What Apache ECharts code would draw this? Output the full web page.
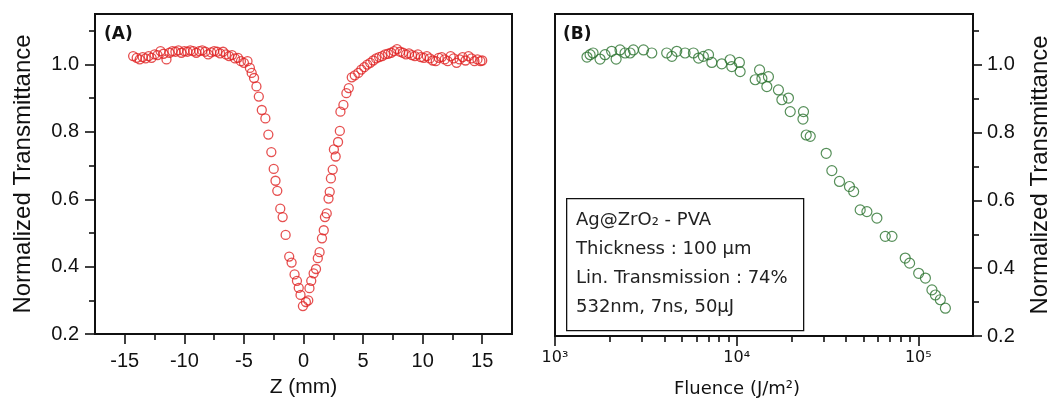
<!DOCTYPE html>
<html>
<head>
<meta charset="utf-8">
<script src="https://cdn.jsdelivr.net/npm/echarts@6/dist/echarts.min.js"></script>
<style>
html,body{margin:0;padding:0;background:#fff;}
#chart{width:1060px;height:403px;}
</style>
</head>
<body>
<div id="chart"></div>
<script>
// panel A : open aperture z-scan
var zA = [-14.3,-14.0,-13.75,-13.5,-13.25,-13.0,-12.75,-12.5,-12.25,-12.0,-11.75,-11.5,-11.25,-11.0,-10.75,-10.5,-10.25,-10.0,-9.75,-9.5,-9.25,-9.0,-8.75,-8.5,-8.25,-8.0,-7.75,-7.5,-7.25,-7.0,-6.75,-6.5,-6.25,-6.0,-5.75,-5.5,-5.25,-5.0,
  -4.7,-4.5,-4.35,-4.15,-3.95,-3.75,-3.5,-3.2,-2.95,-2.7,-2.5,-2.35,-2.2,-1.95,-1.75,-1.5,-1.2,-1.0,-0.75,-0.55,-0.4,-0.25,-0.05,
  0.2,0.4,0.5,0.65,0.85,1.05,1.2,1.35,1.55,1.7,1.8,1.95,2.1,2.2,2.3,2.45,2.55,2.7,2.9,3.05,3.1,3.35,3.6,3.8,4.05,4.3,
  4.6,4.85,5.1,5.35,5.6,5.85,6.1,6.35,6.6,6.85,7.1,7.35,7.6,7.85,8.1,8.35,8.6,8.85,9.1,9.35,9.6,9.85,10.1,10.35,10.6,10.85,11.1,11.35,11.6,11.85,12.1,12.35,12.6,12.85,13.1,13.35,13.6,13.85,14.1,14.35,14.6,14.85,15.0];
var tA = [1.025,1.020,1.015,1.022,1.018,1.025,1.020,1.030,1.028,1.040,1.032,1.015,1.035,1.040,1.038,1.042,1.035,1.040,1.038,1.042,1.040,1.035,1.040,1.042,1.038,1.030,1.036,1.040,1.038,1.033,1.038,1.030,1.025,1.028,1.018,1.020,1.010,1.005,
  1.010,0.990,0.975,0.960,0.935,0.905,0.865,0.840,0.792,0.740,0.690,0.655,0.625,0.572,0.547,0.494,0.430,0.412,0.377,0.358,0.337,0.316,0.283,
  0.295,0.300,0.336,0.358,0.380,0.393,0.425,0.443,0.484,0.508,0.547,0.558,0.602,0.622,0.662,0.688,0.748,0.727,0.770,0.803,0.860,0.880,0.915,0.930,0.962,0.968,
  0.975,0.985,0.992,1.000,1.005,1.012,1.018,1.022,1.025,1.030,1.032,1.035,1.040,1.046,1.038,1.035,1.030,1.033,1.028,1.025,1.030,1.022,1.020,1.025,1.018,1.012,1.010,1.020,1.022,1.015,1.010,1.025,1.018,1.005,1.015,1.022,1.012,1.025,1.018,1.010,1.015,1.010,1.012];

// panel B : transmittance vs fluence
var fluB = [1500,1560,1620,1770,1885,2050,2170,2280,2430,2590,2700,3070,3410,4120,4400,4680,5200,5780,6170,6560,7000,7300,8280,9200,9400,
  10350,10450,12650,13370,13770,14660,14960,16980,17740,19280,19720,23330,23170,24150,25410,31120,33420,36810,41780,44060,
  47860,52120,59160,65770,71610,84720,89540,100460,109400,118850,124170,132130,140930];
var tB = [1.023,1.030,1.035,1.017,1.030,1.040,1.017,1.044,1.035,1.035,1.044,1.044,1.035,1.035,1.025,1.040,1.035,1.035,1.020,1.025,1.030,1.007,1.003,1.015,0.995,
  1.007,0.980,0.956,0.985,0.960,0.936,0.965,0.926,0.897,0.902,0.862,0.862,0.840,0.793,0.789,0.739,0.688,0.656,0.641,0.626,
  0.572,0.567,0.548,0.494,0.494,0.430,0.415,0.385,0.371,0.336,0.321,0.307,0.282];

var zMajor = [-15,-10,-5,0,5,10,15];
var zMinor = [-12.5,-7.5,-2.5,2.5,7.5,12.5];
var yMajor = [0.2,0.4,0.6,0.8,1.0];
var yMinor = [0.3,0.5,0.7,0.9,1.1];
var fMajor = [1000,10000,100000];
var fMinor = [2000,3000,4000,5000,6000,7000,8000,9000,20000,30000,40000,50000,60000,70000,80000,90000];
var supLabel = {1000:'10³',10000:'10⁴',100000:'10⁵'};

var legendLines = ['Ag@ZrO₂ - PVA','Thickness : 100 µm','Lin. Transmission : 74%','532nm, 7ns, 50µJ'];

var lineStyle = {color:'#111',width:1.6};
var arial = 'Liberation Sans, Arial, sans-serif';
var verdana = 'DejaVu Sans, Verdana, sans-serif';

function zip(a,b){
	var out=[];
	for(var i=0;i<a.length;i++){ out.push([a[i],b[i]]); }
	return out;
}

var myChart = echarts.init(document.getElementById('chart'));

var legendGraphics = [{
	type:'rect', left:566, top:198, z:10,
	shape:{width:237,height:132},
	style:{fill:'#fff',stroke:'#111',lineWidth:1.3}
}];
for(var i=0;i<legendLines.length;i++){
	legendGraphics.push({
		type:'text', left:576, top:211+i*29, z:11,
		style:{text:legendLines[i],fill:'#222',font:'18px '+verdana}
	});
}
legendGraphics.push({type:'text',left:104,top:26,z:11,style:{text:'(A)',fill:'#111',font:'bold 17px '+verdana}});
legendGraphics.push({type:'text',left:563,top:26,z:11,style:{text:'(B)',fill:'#111',font:'bold 17px '+verdana}});

function tickAxis(extra){
	var base = {
		axisLine:{show:false,onZero:false},
		axisTick:{length:6,lineStyle:lineStyle},
		axisLabel:{show:false},
		splitLine:{show:false}
	};
	for(var k in extra){ base[k]=extra[k]; }
	return base;
}

option = {
	animation:false,
	grid:[
		{left:95,top:14,width:417,height:322,show:true,borderColor:'#111',borderWidth:2},
		{left:555,top:14,width:418,height:322,show:true,borderColor:'#111',borderWidth:2}
	],
	xAxis:[
		{
			gridIndex:0, type:'value', position:'bottom', min:-17.5, max:17.5,
			name:'Z (mm)', nameLocation:'middle', nameGap:43,
			nameTextStyle:{fontFamily:arial,fontSize:21,color:'#111'},
			axisLine:{onZero:false,lineStyle:lineStyle},
			axisTick:{customValues:zMajor,length:10,lineStyle:lineStyle},
			axisLabel:{customValues:zMajor,margin:17,fontFamily:arial,fontSize:20,color:'#111'},
			splitLine:{show:false}
		},
		tickAxis({gridIndex:0, type:'value', position:'bottom', min:-17.5, max:17.5,
			axisTick:{customValues:zMinor,length:6,lineStyle:lineStyle}}),
		{
			gridIndex:1, type:'log', logBase:10, position:'bottom', min:1000, max:200000,
			name:'Fluence (J/m²)', nameLocation:'middle', nameGap:44,
			nameTextStyle:{fontFamily:verdana,fontSize:18,color:'#111',padding:[0,54,0,0]},
			axisLine:{onZero:false,lineStyle:lineStyle},
			axisTick:{customValues:fMajor,length:10,lineStyle:lineStyle},
			axisLabel:{customValues:fMajor,margin:14,fontFamily:verdana,fontSize:16,color:'#111',
				formatter:function(v){ return supLabel[Math.round(v)] || ''; }},
			splitLine:{show:false}
		},
		tickAxis({gridIndex:1, type:'log', logBase:10, position:'bottom', min:1000, max:200000,
			axisTick:{customValues:fMinor,length:6,lineStyle:lineStyle}})
	],
	yAxis:[
		{
			gridIndex:0, type:'value', position:'left', min:0.2, max:1.15,
			name:'Normalized Transmittance', nameLocation:'middle', nameGap:60, nameRotate:90,
			nameTextStyle:{fontFamily:arial,fontSize:24,color:'#111'},
			axisLine:{onZero:false,lineStyle:lineStyle},
			axisTick:{customValues:yMajor,length:10,lineStyle:lineStyle},
			axisLabel:{customValues:yMajor,margin:16,fontFamily:arial,fontSize:20,color:'#111',
				formatter:function(v){ return v.toFixed(1); }},
			splitLine:{show:false}
		},
		tickAxis({gridIndex:0, type:'value', position:'left', min:0.2, max:1.15,
			axisTick:{customValues:yMinor,length:6,lineStyle:lineStyle}}),
		{
			gridIndex:1, type:'value', position:'right', min:0.2, max:1.15,
			name:'Normalized Transmittance', nameLocation:'middle', nameGap:55, nameRotate:90,
			nameTextStyle:{fontFamily:arial,fontSize:24,color:'#111'},
			axisLine:{onZero:false,lineStyle:lineStyle},
			axisTick:{customValues:yMajor,length:9,lineStyle:lineStyle},
			axisLabel:{customValues:yMajor,margin:14,fontFamily:arial,fontSize:20,color:'#111',
				formatter:function(v){ return v.toFixed(1); }},
			splitLine:{show:false}
		},
		tickAxis({gridIndex:1, type:'value', position:'right', min:0.2, max:1.15,
			axisTick:{customValues:yMinor,length:6,lineStyle:lineStyle}})
	],
	graphic:legendGraphics,
	series:[
		{
			name:'A', type:'scatter', xAxisIndex:0, yAxisIndex:0,
			symbol:'circle', symbolSize:9,
			itemStyle:{color:'rgba(255,255,255,0)',borderColor:'#e02424',borderWidth:1.3},
			data:zip(zA,tA)
		},
		{
			name:'B', type:'scatter', xAxisIndex:2, yAxisIndex:2,
			symbol:'circle', symbolSize:10,
			itemStyle:{color:'rgba(255,255,255,0)',borderColor:'#2c7330',borderWidth:1.2},
			data:zip(fluB,tB)
		}
	]
};
myChart.setOption(option);
window.addEventListener("resize",function(){
	myChart.resize();
});
</script>
</body>
</html>
